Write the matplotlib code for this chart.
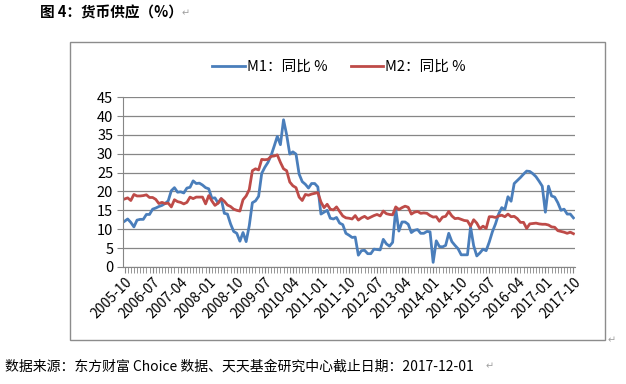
# -*- coding: utf-8 -*-
import numpy as np
import matplotlib
matplotlib.use("Agg")
import matplotlib.pyplot as plt
import matplotlib.patches as patches

plt.rcParams['font.family'] = ['Noto Sans CJK SC', 'DejaVu Sans']

# Donnees mensuelles 2005-10 -> 2017-10 (glissement annuel, %)
start_year, start_month = 2005, 10
n_months = 145

m1 = [12.1, 12.7, 11.8,
      10.6, 12.4, 12.6, 12.6, 13.9, 13.9, 15.3, 15.6, 16.0, 16.3, 16.8, 17.5,
      20.2, 21.0, 19.8, 19.9, 19.6, 20.9, 21.1, 22.8, 22.1, 22.2, 21.7, 21.0,
      20.7, 18.2, 18.3, 16.9, 18.1, 14.2, 14.0, 11.4, 9.4, 8.9, 6.8, 9.1,
      6.7, 10.9, 17.0, 17.5, 18.7, 24.8, 26.4, 27.7, 29.5, 32.0, 34.6, 32.4,
      39.0, 35.0, 29.9, 30.5, 29.9, 24.6, 22.6, 21.9, 20.9, 22.1, 22.1, 21.2,
      14.0, 14.5, 15.0, 12.9, 12.7, 13.1, 11.6, 11.2, 8.9, 8.4, 7.8, 7.9,
      3.1, 4.3, 4.4, 3.5, 3.5, 4.7, 4.6, 4.5, 7.3, 6.1, 5.5, 6.5,
      15.3, 9.5, 11.9, 11.9, 11.3, 9.1, 9.7, 9.9, 8.9, 8.9, 9.4, 9.3,
      1.2, 6.9, 5.4, 5.3, 5.7, 8.9, 6.7, 5.7, 4.8, 3.2, 3.2, 3.2,
      10.6, 5.6, 2.9, 3.7, 4.7, 4.3, 6.6, 9.3, 11.4, 14.0, 15.7, 15.2,
      18.6, 17.4, 22.1, 22.9, 23.7, 24.6, 25.4, 25.3, 24.7, 23.9, 22.7, 21.4,
      14.5, 21.4, 18.8, 18.5, 17.0, 15.0, 15.3, 14.0, 14.0, 13.0]

m2 = [18.0, 18.3, 17.6,
      19.2, 18.8, 18.8, 18.9, 19.1, 18.4, 18.4, 17.9, 16.8, 17.1, 16.8, 16.9,
      15.9, 17.8, 17.3, 17.1, 16.7, 17.1, 18.5, 18.1, 18.5, 18.5, 18.5, 16.7,
      18.9, 17.5, 16.3, 16.9, 18.1, 17.4, 16.4, 16.0, 15.3, 15.0, 14.8, 17.8,
      18.8, 20.5, 25.5, 26.0, 25.7, 28.5, 28.4, 28.5, 29.3, 29.4, 29.7, 27.7,
      26.0, 25.5, 22.5, 21.5, 21.0, 18.5, 17.6, 19.2, 19.0, 19.3, 19.5, 19.7,
      17.2, 15.7, 16.6, 15.3, 15.1, 15.9, 14.7, 13.5, 13.0, 12.9, 12.7, 13.6,
      12.4, 13.0, 13.4, 12.8, 13.2, 13.6, 13.9, 13.5, 14.8, 14.1, 13.9, 13.8,
      15.9, 15.2, 15.7, 16.1, 15.8, 14.0, 14.5, 14.7, 14.2, 14.3, 14.2, 13.6,
      13.2, 13.3, 12.1, 13.2, 13.4, 14.7, 13.5, 12.8, 12.9, 12.6, 12.3, 12.2,
      10.8, 12.5, 11.6, 10.1, 10.8, 10.2, 13.3, 13.3, 13.1, 13.5, 13.7, 13.3,
      14.0, 13.3, 13.4, 12.8, 11.8, 11.8, 10.2, 11.4, 11.5, 11.6, 11.4, 11.3,
      11.3, 11.1, 10.6, 10.5, 9.6, 9.4, 9.2, 8.9, 9.2, 8.8]

labels = []
for i in range(n_months):
    k = start_month - 1 + i
    labels.append("%d-%02d" % (start_year + k // 12, k % 12 + 1))

x = np.arange(n_months)

fig = plt.figure(figsize=(6.26, 3.84), dpi=100)
ax = fig.add_axes([0.1965, 0.305, 0.722, 0.442])

ax.plot(x, m1, color='#4A7EBB', lw=2.0, label='M1：同比 %')
ax.plot(x, m2, color='#BE4B48', lw=2.0, label='M2：同比 %')

ax.set_xlim(-0.5, n_months - 0.5)
ax.set_ylim(0, 45)
ax.set_yticks(np.arange(0, 50, 5))
ax.yaxis.grid(True, color='#868686', lw=0.9)
ax.set_axisbelow(True)

ax.set_xticks(x, minor=True)
ax.set_xticks(x[::9])
ax.set_xticklabels(labels[::9], rotation=45, ha='right', rotation_mode='anchor')
ax.tick_params(axis='x', which='both', length=4, color='#868686', labelsize=10, pad=2)
ax.tick_params(axis='y', length=4, color='#868686', labelsize=10.5, pad=3)

for s in ['top', 'right']:
    ax.spines[s].set_visible(False)
ax.spines['left'].set_color('#868686')
ax.spines['bottom'].set_color('#868686')

ax.legend(loc='lower center', bbox_to_anchor=(0.478, 1.06), ncol=2, frameon=False,
          fontsize=10.5, handlelength=2.2, columnspacing=1.6, handletextpad=0.15)

# Cadre du graphique
cadre = patches.Rectangle((0.112, 0.115), 0.855, 0.776, transform=fig.transFigure,
                          fill=False, edgecolor='#8c8c8c', lw=1.0)
fig.patches.append(cadre)

fig.text(0.064, 0.968, '图 4：货币供应（%）', fontsize=10.5, fontweight='bold', va='center')
fig.text(0.29, 0.966, '↵', fontsize=7, color='#a0a0a0', va='center', family='DejaVu Sans')
fig.text(0.970, 0.115, '↵', fontsize=7, color='#a0a0a0', va='center', family='DejaVu Sans')
fig.text(0.008, 0.045, '数据来源：东方财富 Choice 数据、天天基金研究中心截止日期：2017-12-01',
         fontsize=10, va='center')
fig.text(0.775, 0.045, '↵', fontsize=7, color='#a0a0a0', va='center', family='DejaVu Sans')

fig.savefig('out.png', dpi=100)
